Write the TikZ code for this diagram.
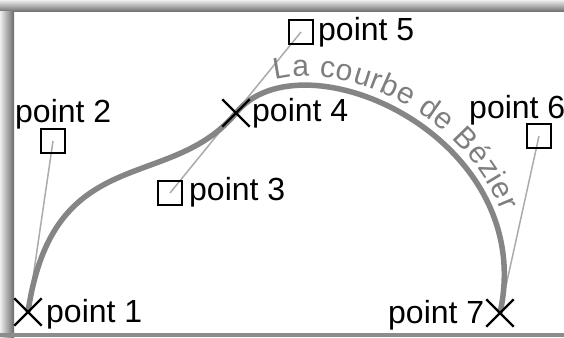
\documentclass[tikz,border=0pt]{standalone}
\usepackage{fontspec}
\setmainfont{Liberation Sans}
\usetikzlibrary{decorations.text,shapes.misc}
\pgfdeclarelayer{framelayer}
\pgfdeclarelayer{linelayer}
\pgfsetlayers{framelayer,linelayer,main}
\definecolor{curvegray}{HTML}{858585}
\definecolor{ctrlgray}{HTML}{ABABAB}
\definecolor{textgray}{HTML}{7E7E7E}
\definecolor{shadlight}{HTML}{EEEEEE}
\definecolor{shaddark}{HTML}{6A6A6A}
\definecolor{bottomgray}{HTML}{8C8C8C}
\newcommand{\labfont}{\fontsize{32}{36}\selectfont}
\newcommand{\curvefont}{\fontsize{30}{34}\selectfont}
\begin{document}
\begin{tikzpicture}[x=1pt,y=-1pt,
  ctrlline/.style={draw=ctrlgray, line width=1.5pt},
  bez/.style={draw=curvegray, line width=5.5pt},
  endmark/.style={cross out, draw=black, line width=2.4pt, minimum size=25pt, inner sep=0pt},
  ctrlmark/.style={rectangle, draw=black, line width=2.4pt, minimum size=24pt, inner sep=0pt},
  lab/.style={inner sep=0pt, font=\labfont, text=black}
 ]
\useasboundingbox (0,0) rectangle (564,337);
\begin{pgfonlayer}{framelayer}
  \fill[white] (0,0) rectangle (564,337);
  \shade[top color=shadlight, bottom color=shaddark] (0,0) rectangle (564,12);
  \shade[left color=shadlight, right color=shaddark] (0,12) rectangle (14,337);
  \fill[bottomgray] (0,333) rectangle (564,337);
\end{pgfonlayer}

\node[endmark] (p1) at (28,312) {};
\node[ctrlmark] (p2) at (53,141) {};
\node[ctrlmark] (p3) at (170,193) {};
\node[endmark] (p4) at (236,113) {};
\node[ctrlmark] (p5) at (301,32) {};
\node[ctrlmark] (p6) at (539,136) {};
\node[endmark] (p7) at (500,313) {};

\node[lab, anchor=base west] (l1) at (46,322) {point 1};
\node[lab, anchor=base west] (l2) at (15,122) {point 2};
\node[lab, anchor=base west] (l3) at (189,200) {point 3};
\node[lab, anchor=base west] (l4) at (252,121) {point 4};
\node[lab, anchor=base west] (l5) at (318,41) {point 5};
\node[lab, anchor=base west] (l6) at (469,118) {point 6};
\node[lab, anchor=base west] (l7) at (388,323) {point 7};

\begin{pgfonlayer}{linelayer}
  \draw[ctrlline] (p1.center) -- (p2.center);
  \draw[ctrlline] (p3.center) -- (p5.center);
  \draw[ctrlline] (p6.center) -- (p7.center);
  \draw[bez] (p1.center) .. controls (p2.center) and (p3.center) .. (p4.center)
             .. controls (p5.center) and (p6.center) .. (p7.center);
\end{pgfonlayer}
\path[decorate, decoration={text along path,
      text={|\curvefont\color{textgray}|La courbe de Bézier},
      raise=9pt, text align={fit to path, left indent=48pt, right indent=100pt}}]
  (p4.center) .. controls (p5.center) and (p6.center) .. (p7.center);
\end{tikzpicture}
\end{document}
